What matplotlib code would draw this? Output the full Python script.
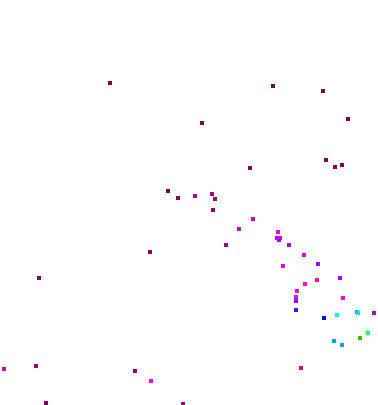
import matplotlib
matplotlib.use('Agg')
import matplotlib.pyplot as plt

# point positions (x to the right, y upward)
xs = [110, 202, 273, 323, 348, 326, 342, 335, 250,
      168, 178, 195, 212, 215, 213, 253, 239, 226, 150,
      278, 277, 280, 279, 289, 304, 318, 283, 340, 317, 305, 297, 296, 296, 343,
      296, 357, 358, 374, 337, 324, 367, 368, 360, 334, 342,
      39, 4, 36, 135, 151, 46, 183, 301]
ys = [322, 282, 319, 314, 286, 245, 240, 238, 237,
      214, 207, 209, 211, 206, 195, 186, 176, 160, 153,
      173, 167, 167, 165, 160, 150, 141, 139, 127, 125, 121, 114, 108, 104, 107,
      95, 93, 92, 92, 90, 87, 73, 72, 67, 64, 60,
      127, 36, 39, 34, 24, 2, 1, 37]
colors = ['#7a0050', '#7a0050', '#7a0050', '#7a0050', '#7a0050', '#80005a', '#7a0050', '#80005a', '#80005a',
          '#800060', '#800060', '#c0007f', '#a00070', '#a00070', '#900068', '#d000b0', '#d000a0', '#a00078', '#900068',
          '#ff00c8', '#b000ff', '#e000e0', '#b000ff', '#b000ff', '#d000f0', '#a000ff', '#e000ff', '#a000ff', '#ff00c0', '#ff00e0', '#e800ff', '#d800ff', '#a000ff', '#e800ff',
          '#6000ff', '#00a8ff', '#00e0ff', '#a000ff', '#00ffe0', '#0010d0', '#c0ff00', '#00ffd0', '#30c000', '#00a0ff', '#00a0ff',
          '#800060', '#e000a0', '#b00070', '#900068', '#ff00ff', '#800055', '#a00070', '#c8009a']

fig = plt.figure(figsize=(3.78, 4.06), dpi=100)
ax = fig.add_axes([0, 0, 1, 1])
ax.scatter(xs, ys, c=colors, s=5, marker='s', linewidths=0)
ax.set_xlim(0, 378)
ax.set_ylim(0, 406)
ax.axis('off')
fig.savefig('out.png', dpi=100, facecolor='white')
